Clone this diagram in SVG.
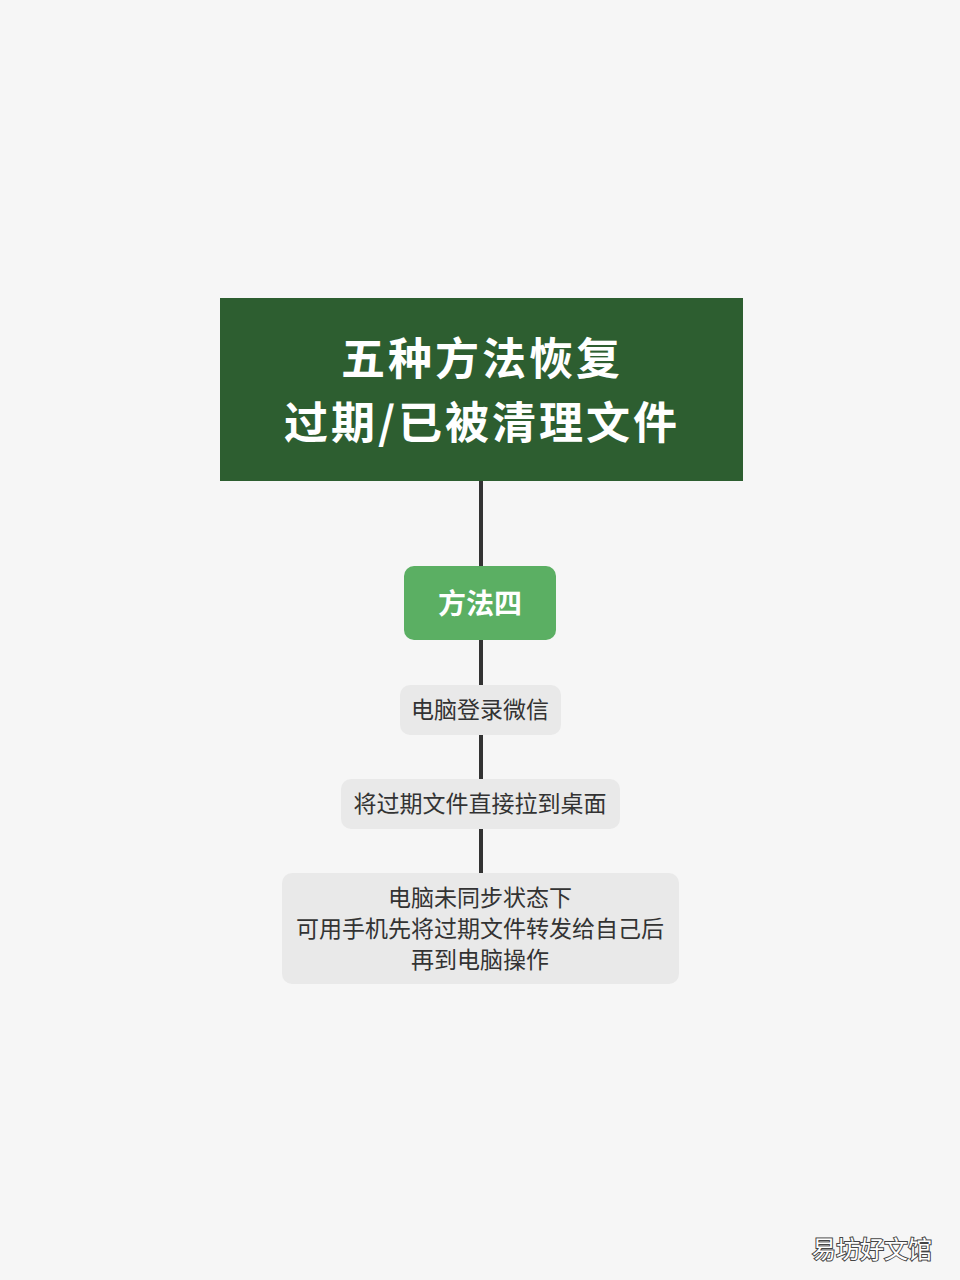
<svg xmlns="http://www.w3.org/2000/svg" width="960" height="1280" viewBox="0 0 960 1280">
<style>
.t{font-family:"Noto Sans CJK SC","Noto Sans",sans-serif;text-anchor:middle;dominant-baseline:central}
.title{fill:#ffffff;font-size:44px;font-weight:bold;letter-spacing:3px}
.method{fill:#ffffff;font-size:28px;font-weight:bold}
.step{fill:#333333;font-size:23px}
.box{fill:#e9e9e9}
.conn{stroke:#333333;stroke-width:4;fill:none}
.wm{fill:#ffffff;stroke:#444444;stroke-width:2;paint-order:stroke;font-size:24px}
</style>
<rect width="960" height="1280" fill="#f6f6f6"/>
<g id="connectors">
<line class="conn" x1="481" y1="481" x2="481" y2="566"/>
<line class="conn" x1="481" y1="640" x2="481" y2="685"/>
<line class="conn" x1="481" y1="735" x2="481" y2="779"/>
<line class="conn" x1="481" y1="829" x2="481" y2="873"/>
</g>
<g id="title">
<rect x="220" y="298" width="523" height="183" fill="#2d5e30"/>
<text class="t title" x="482" y="356">五种方法恢复</text>
<text class="t title" x="482" y="420">过期/已被清理文件</text>
</g>
<g id="method4">
<rect x="404" y="566" width="152" height="74" rx="10" fill="#5baf63"/>
<text class="t method" x="480" y="602">方法四</text>
</g>
<g id="step1">
<rect class="box" x="400" y="685" width="161" height="50" rx="10"/>
<text class="t step" x="480" y="708">电脑登录微信</text>
</g>
<g id="step2">
<rect class="box" x="341" y="779" width="279" height="50" rx="10"/>
<text class="t step" x="480" y="802">将过期文件直接拉到桌面</text>
</g>
<g id="step3">
<rect class="box" x="282" y="873" width="397" height="111" rx="10"/>
<text class="t step" x="480" y="896">电脑未同步状态下</text>
<text class="t step" x="480" y="927">可用手机先将过期文件转发给自己后</text>
<text class="t step" x="480" y="958">再到电脑操作</text>
</g>
<text class="t wm" x="872" y="1247">易坊好文馆</text>
</svg>
